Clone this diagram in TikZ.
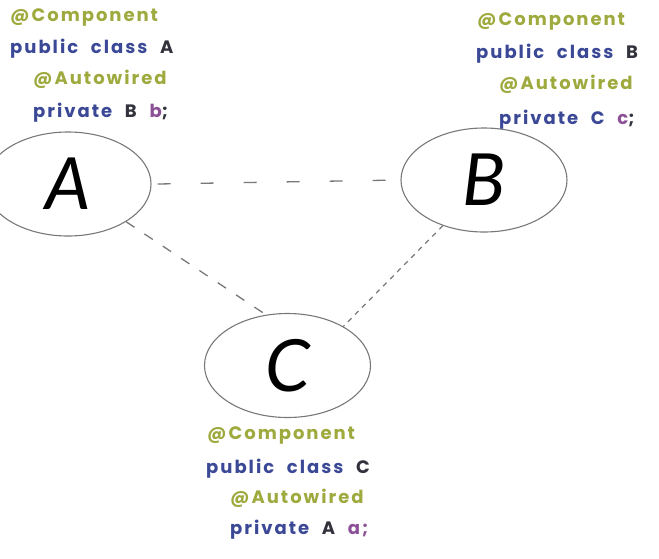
\documentclass[tikz,border=0pt]{standalone}
\usepackage{fontspec}
\usetikzlibrary{shapes.geometric}
\newfontfamily\codefont{Poppins}[LetterSpace=11,WordSpace=2.2]
\newfontfamily\bigfont{Lato}
\definecolor{anno}{RGB}{158,170,62}
\definecolor{kw}{RGB}{58,72,150}
\definecolor{cls}{RGB}{50,50,60}
\definecolor{var}{RGB}{140,80,150}
\definecolor{edge}{RGB}{120,120,120}
\begin{document}
\begin{tikzpicture}[x=1pt,y=-1pt,
  code/.style={anchor=base west,inner sep=0pt,font=\codefont\bfseries\fontsize{18}{20}\selectfont},
  ann/.style={code,text=anno},
  decl/.style={code,text=kw},
  bean/.style={ellipse,draw=edge,line width=1.1pt,minimum width=166pt,minimum height=104pt,inner sep=0pt,
    font=\bigfont\itshape\fontsize{72}{72}\selectfont},
  link/.style={draw=edge,line width=1.3pt}]
\useasboundingbox (0,0) rectangle (659,558);
\node[bean] (A) at (68,184) {A};
\node[bean] (B) at (484,180) {B};
\node[bean] (C) at (287.5,365.5) {C};
% block A
\node[ann]  (a1) at (10,21)  {@Component};
\node[decl] (a2) at (10,53)  {public class \textcolor{cls}{A}};
\node[ann]  (a3) at (33,84)  {@Autowired};
\node[decl] (a4) at (33,117) {private \textcolor{cls}{B} \textcolor{var}{b}\textcolor{cls}{;}};
% block B
\node[ann]  (b1) at (477,25)  {@Component};
\node[decl] (b2) at (476,58)  {public class \textcolor{cls}{B}};
\node[ann]  (b3) at (499,89)  {@Autowired};
\node[decl] (b4) at (499,124) {private C \textcolor{var}{c}\textcolor{cls}{;}};
% block C
\node[ann]  (c1) at (207,439) {@Component};
\node[decl] (c2) at (206,473) {public class \textcolor{cls}{C}};
\node[ann]  (c3) at (230,503) {@Autowired};
\node[decl] (c4) at (230,534) {private \textcolor{cls}{A} \textcolor{var}{a;}};
% links
\draw[link,dash pattern=on 13pt off 30pt] (A.east) ++(6,0) coordinate (ae) -- (B.west);
\draw[link,dash pattern=on 10pt off 12pt] (A.-33) -- (C.113);
\draw[link,line width=1.2pt,dash pattern=on 5pt off 5pt] (B.-132) -- (C.35);
\end{tikzpicture}
\end{document}
